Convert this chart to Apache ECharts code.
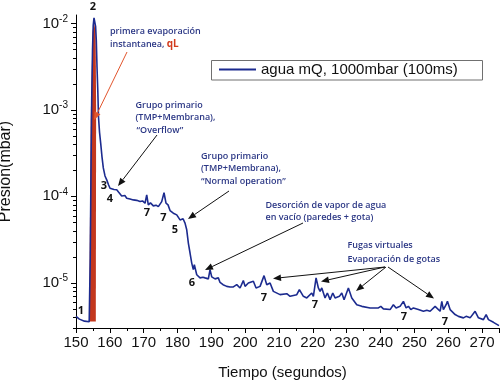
<!DOCTYPE html>
<html><head><meta charset="utf-8">
<script src="https://cdn.jsdelivr.net/npm/echarts@6/dist/echarts.min.js"></script>
<style>html,body{margin:0;padding:0;background:#fff}#c{width:500px;height:383px}</style>
</head><body><div id="c"></div>
<script>
const seriesName = 'agua mQ, 1000mbar (100ms)';
const timeS = [150.0,151.0,152.5,153.9,154.2,154.43,154.64,154.88,155.09,155.32,155.56,155.79,156.0,156.21,156.44,156.65,156.95,157.3,157.69,158.07,158.57,159.08,159.61,160.05,160.55,161.23,162.03,162.56,163.0,163.5,163.97,164.49,164.99,165.52,165.96,166.47,166.94,167.94,168.48,168.92,169.66,170.4,170.9,171.37,172.0,172.85,173.65,174.33,175.33,176.01,176.6,177.2,177.79,178.76,179.26,179.77,180.3,180.74,181.25,181.64,182.22,182.72,183.2,183.7,184.2,184.67,184.97,185.68,186.65,187.5,188.13,189.11,189.61,190.11,190.65,191.09,192.06,192.57,193.45,194.55,195.52,196.5,197.5,197.98,198.48,199.45,199.96,200.93,201.43,202.41,203.21,204.39,205.57,206.37,207.35,208.32,210.3,212.28,213.26,215.24,216.01,217.19,218.2,219.67,220.15,220.94,221.62,222.13,222.63,223.6,224.28,225.08,225.88,226.56,227.83,228.54,229.22,230.49,231.5,232.97,234.45,236.91,239.36,240.07,240.84,242.82,243.79,244.59,245.77,246.75,247.55,248.23,248.94,249.71,251.18,252.66,253.67,254.64,256.12,257.6,258.1,258.57,259.37,259.76,260.55,262.03,263.01,264.49,265.28,266.47,267.94,268.92,270.4,271.2,271.88,273.36,275.0];
const pressure = [4.09e-6,3.8e-6,3.6e-6,3.55e-6,1.86e-5,2.02e-4,1.29e-3,4.88e-3,9.48e-3,1.16e-2,1.11e-2,9.23e-3,6.37e-3,3.11e-3,1.69e-3,8.24e-4,5.53e-4,4.1e-4,2.84e-4,2.13e-4,1.72e-4,1.55e-4,1.36e-4,1.24e-4,1.21e-4,1.2e-4,1.19e-4,1.12e-4,1.1e-4,1.01e-4,9.93e-5,1.02e-4,9.51e-5,9.9e-5,9.33e-5,9.7e-5,9.09e-5,8.98e-5,9.3e-5,8.69e-5,8.85e-5,8.32e-5,1.04e-4,7.96e-5,8.4e-5,7.75e-5,7.9e-5,7.6e-5,8.69e-5,1.1e-4,8.32e-5,7.96e-5,6.84e-5,6.38e-5,6.6e-5,6.1e-5,5.86e-5,5.34e-5,5.25e-5,5.5e-5,4.9e-5,4.1e-5,2.88e-5,2.21e-5,1.69e-5,1.42e-5,1.62e-5,1.24e-5,1.14e-5,1.16e-5,1.14e-5,1.11e-5,1.42e-5,1.17e-5,1.21e-5,1.11e-5,1.14e-5,1.01e-5,9.51e-6,9.09e-6,8.95e-6,8.95e-6,9.51e-6,9.09e-6,8.71e-6,1.06e-5,9.09e-6,9.95e-6,9.51e-6,1.04e-5,8.71e-6,9.09e-6,1.21e-5,9.51e-6,9.95e-6,7.96e-6,7.29e-6,7.48e-6,6.97e-6,7.29e-6,8.32e-6,6.97e-6,6.68e-6,7.62e-6,6.97e-6,1.14e-5,8.71e-6,7.96e-6,8.71e-6,6.68e-6,7.62e-6,6.38e-6,7.62e-6,6.68e-6,6.97e-6,7.62e-6,6.38e-6,8.71e-6,6.68e-6,5.58e-6,5.34e-6,5.12e-6,5.12e-6,5.34e-6,4.99e-6,4.9e-6,5.58e-6,5.12e-6,5.34e-6,6.1e-6,5.12e-6,5.34e-6,4.9e-6,5.12e-6,4.9e-6,4.68e-6,4.8e-6,4.68e-6,5.34e-6,4.68e-6,6.1e-6,4.9e-6,5.58e-6,6.1e-6,4.9e-6,4.29e-6,4.09e-6,3.93e-6,4.09e-6,3.93e-6,4.68e-6,3.93e-6,3.75e-6,4.29e-6,3.75e-6,3.49e-6,3.2e-6];
const pulseX = [153.9,154.35,154.9,155.3,155.8,155.95,155.85];
const pulseY = [3.56e-6,8e-4,8e-3,1.05e-2,8e-3,1e-3,3.56e-6];
const yMinorTicks = [3e-6,4e-6,5e-6,6e-6,7e-6,8e-6,9e-6,2e-5,3e-5,4e-5,5e-5,6e-5,7e-5,8e-5,9e-5,2e-4,3e-4,4e-4,5e-4,6e-4,7e-4,8e-4,9e-4,2e-3,3e-3,4e-3,5e-3,6e-3,7e-3,8e-3,9e-3];
const xMin = 150, xMax = 275, xStep = 10;
const yMin = 3e-6, yMax = 1.25e-2;

const chart = echarts.init(document.getElementById('c'), null, {renderer:'canvas'});
const AX = '"Liberation Sans", Arial, sans-serif';
const ANN = '"Open Sans", sans-serif';
const navy = '#2b3785';

function arrow(x1,y1,x2,y2,color){
  const a=Math.atan2(y2-y1,x2-x1), L=8, H=3.3;
  const bx=x2-L*Math.cos(a), by=y2-L*Math.sin(a);
  const px=-Math.sin(a)*H, py=Math.cos(a)*H;
  return [{type:'line',z:50,shape:{x1,y1,x2:bx,y2:by},style:{stroke:color,lineWidth:1}},
          {type:'polygon',z:50,shape:{points:[[x2,y2],[bx+px,by+py],[bx-px,by-py]]},style:{fill:color}}];
}
function txt(x,y,t,opt){
  opt=opt||{};
  return {type:'text',z:50,x,y,style:Object.assign({text:t,fill:navy,fontSize:9,fontWeight:600,fontFamily:ANN,verticalAlign:'middle',align:'left'},opt)};
}
function num(x,y,t,size){
  return {type:'text',z:50,x,y,style:{text:t,fill:'#111',fontSize:size||11,fontWeight:700,fontFamily:ANN,verticalAlign:'middle',align:'center'}};
}

const graphics = [].concat(
  [{type:'rect',z:40,shape:{x:211.5,y:60.5,width:271,height:19.5},style:{fill:null,stroke:'#707070',lineWidth:1}},
   txt(110,31.5,'primera evaporación'),
   txt(110,44,'{a|instantanea, }{b|qL}',{rich:{a:{fill:navy,fontSize:9,fontWeight:600,fontFamily:ANN},b:{fill:'#d23a1c',fontSize:10,fontWeight:700,fontFamily:ANN}}}),
   txt(135.5,105,'Grupo primario'), txt(135.5,117.5,'(TMP+Membrana),'), txt(136.5,130,'“Overflow”'),
   txt(201,156,'Grupo primario'), txt(201,168.5,'(TMP+Membrana),'), txt(201,181,'“Normal operation”'),
   txt(265.5,205,'Desorción de vapor de agua'), txt(265.5,217.5,'en vacío (paredes + gota)'),
   txt(347.5,245,'Fugas virtuales'), txt(347.5,259,'Evaporación de gotas'),
   num(81,311,'1'), num(93,7,'2'), num(104,186,'3'), num(110,199,'4'), num(175,230,'5'), num(192,283,'6'),
   num(147,213,'7'), num(163.5,218,'7'), num(264,298,'7'), num(315,305,'7'), num(404,317,'7'), num(445,322,'7')
  ],
  arrow(127,52,94,120,'#e2552d'),
  arrow(157,135,118,186,'#111'),
  arrow(229,191,188,219,'#111'),
  arrow(303,223,205,270,'#111'),
  arrow(385,267,273,278.5,'#111'),
  arrow(385,267,321,281.5,'#111'),
  arrow(386,267,356,291,'#111'),
  arrow(388,267,434,298.5,'#111')
);

chart.setOption({
  animation:false,
  backgroundColor:'#fff',
  grid:{left:76,right:1,top:15,bottom:55,containLabel:false,outerBoundsMode:'none'},
  legend:{data:[{name:seriesName,icon:'rect'}],left:219,top:62,selectedMode:false,padding:0,itemWidth:37,itemHeight:2,
    textStyle:{fontSize:15,color:'#111',fontFamily:AX}},
  xAxis:{type:'value',min:xMin,max:xMax,interval:xStep,
    name:'Tiempo (segundos)',nameLocation:'middle',nameGap:37,nameTextStyle:{fontSize:15,color:'#111',fontFamily:AX,padding:[0,10,0,0]},
    axisLine:{lineStyle:{color:'#000',width:1}},
    axisTick:{show:true,length:5,lineStyle:{color:'#000'}},
    minorTick:{show:true,splitNumber:2,length:3,lineStyle:{color:'#000'}},
    axisLabel:{fontSize:15,color:'#111',fontFamily:AX,margin:7,showMaxLabel:false},
    splitLine:{show:false}},
  yAxis:{type:'log',logBase:10,min:yMin,max:yMax,
    name:'Presión(mbar)',nameLocation:'middle',nameGap:62,nameTextStyle:{fontSize:16,color:'#111',fontFamily:AX},
    axisLine:{show:true,lineStyle:{color:'#000',width:1}},
    axisTick:{show:true,length:5,lineStyle:{color:'#000'}},
    axisLabel:{margin:8,showMinLabel:false,showMaxLabel:false,
      formatter:function(v){const e=Math.log10(v);const r=Math.round(e);if(Math.abs(e-r)>1e-6)return '';return '{b|10}{s|'+r+'}';},
      rich:{b:{fontSize:15,color:'#111',fontFamily:AX},s:{fontSize:10,color:'#111',fontFamily:AX,padding:[0,0,9,0]}}},
    splitLine:{show:false}},
  series:[
    {type:'custom',name:'pulse',silent:true,z:2,data:[[155,1e-4]],clip:false,
      renderItem:function(params,api){
        return {type:'polygon',shape:{points:pulseX.map((x,i)=>api.coord([x,pulseY[i]]))},style:{fill:'#c3371d'}};
      }},
    {type:'line',name:seriesName,z:5,symbol:'none',data:timeS.map((t,i)=>[t,pressure[i]]),
      lineStyle:{color:'#1c2b8f',width:1.6},itemStyle:{color:'#1c2b8f'}},
    {type:'custom',name:'minorTicks',silent:true,z:6,clip:false,data:yMinorTicks.map(v=>[xMin,v]),
      renderItem:function(params,api){
        const p=api.coord([xMin,api.value(1)]);
        const y=Math.round(p[1])+0.5;
        return {type:'line',shape:{x1:p[0]-3,y1:y,x2:p[0],y2:y},style:{stroke:'#000',lineWidth:1}};
      }}
  ],
  graphic:graphics
});
</script></body></html>
